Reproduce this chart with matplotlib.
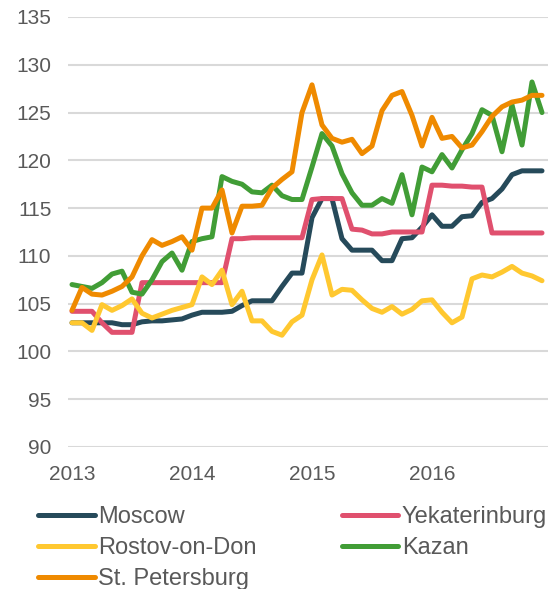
import numpy as np
import matplotlib.pyplot as plt

plt.rcParams['font.family'] = ['Liberation Sans', 'DejaVu Sans']

years = ['2013', '2014', '2015', '2016']

moscow = [103.0, 103.0, 103.0, 103.0, 103.0, 102.8, 102.8, 103.1, 103.2, 103.2, 103.3, 103.4,
          103.8, 104.1, 104.1, 104.1, 104.2, 104.8, 105.3, 105.3, 105.3, 106.8, 108.2, 108.2,
          114.0, 116.0, 116.0, 111.8, 110.6, 110.6, 110.6, 109.5, 109.5, 111.8, 111.9, 113.0,
          114.3, 113.1, 113.1, 114.1, 114.2, 115.6, 116.0, 117.0, 118.5, 118.9, 118.9, 118.9]
yekaterinburg = [104.2, 104.2, 104.2, 103.0, 102.0, 102.0, 102.0, 107.2, 107.2, 107.2, 107.2, 107.2,
                 107.2, 107.2, 107.2, 107.2, 111.8, 111.8, 111.9, 111.9, 111.9, 111.9, 111.9, 111.9,
                 115.9, 116.0, 116.0, 116.0, 112.8, 112.7, 112.3, 112.3, 112.5, 112.5, 112.5, 112.5,
                 117.4, 117.4, 117.3, 117.3, 117.2, 117.2, 112.4, 112.4, 112.4, 112.4, 112.4, 112.4]
rostov = [103.0, 103.0, 102.2, 104.9, 104.3, 104.8, 105.5, 104.0, 103.5, 103.9, 104.3, 104.6,
          104.9, 107.8, 107.0, 108.5, 104.9, 106.3, 103.2, 103.2, 102.1, 101.7, 103.1, 103.8,
          107.5, 110.1, 105.9, 106.5, 106.4, 105.4, 104.5, 104.1, 104.7, 103.9, 104.4, 105.3,
          105.4, 104.1, 103.0, 103.6, 107.6, 108.0, 107.8, 108.3, 108.9, 108.2, 107.9, 107.4]
kazan = [107.0, 106.8, 106.6, 107.2, 108.1, 108.4, 106.2, 106.0, 107.5, 109.4, 110.3, 108.5,
         111.5, 111.8, 112.0, 118.3, 117.8, 117.5, 116.7, 116.6, 117.4, 116.3, 115.9, 115.9,
         119.3, 122.8, 121.5, 118.6, 116.6, 115.3, 115.3, 116.0, 115.5, 118.5, 114.3, 119.3,
         118.8, 120.6, 119.2, 121.1, 122.8, 125.3, 124.7, 120.9, 125.8, 121.6, 128.2, 125.0]
st_petersburg = [104.3, 106.7, 106.0, 105.9, 106.3, 106.8, 107.8, 110.0, 111.7, 111.1, 111.5, 112.0,
                 110.6, 115.0, 115.0, 116.9, 112.4, 115.2, 115.2, 115.3, 117.1, 118.0, 118.8, 125.0,
                 127.9, 123.7, 122.3, 121.9, 122.2, 120.7, 121.5, 125.2, 126.8, 127.2, 124.7, 121.5,
                 124.5, 122.3, 122.5, 121.3, 121.6, 123.0, 124.6, 125.6, 126.1, 126.3, 126.8, 126.8]

series = [
    ('Moscow', moscow, '#264a5a'),
    ('Yekaterinburg', yekaterinburg, '#e0506e'),
    ('Rostov-on-Don', rostov, '#ffc830'),
    ('Kazan', kazan, '#419d36'),
    ('St. Petersburg', st_petersburg, '#ef8a00'),
]

fig = plt.figure(figsize=(5.5, 5.89), dpi=100)
ax = fig.add_axes([68 / 550, 1 - 447 / 589, 480 / 550, 430 / 589])

x = np.arange(len(moscow))
lines = {}
for name, vals, col in series:
    ln, = ax.plot(x, vals, color=col, lw=3.6, solid_capstyle='round',
                  solid_joinstyle='round', label=name, clip_on=False)
    lines[name] = ln

ax.set_xlim(-0.4, 47.6)
ax.set_ylim(90, 135)
ax.set_yticks(np.arange(90, 136, 5))
ax.set_xticks([0, 12, 24, 36])
ax.set_xticklabels(years)
ax.grid(axis='y', color='#d9d9d9', lw=1.5)
ax.set_axisbelow(True)
for s in ax.spines.values():
    s.set_visible(False)
ax.tick_params(length=0, labelsize=15, colors='#595959')
ax.tick_params(axis='x', pad=13)
ax.tick_params(axis='y', pad=12)

order = ['Moscow', 'Rostov-on-Don', 'St. Petersburg', 'Yekaterinburg', 'Kazan']
fig.legend([lines[n] for n in order], order, loc='upper left',
           bbox_to_anchor=(38 / 550, 1 - 506 / 589), ncol=2, frameon=False,
           fontsize=17, labelcolor='#595959', handlelength=2.4, handletextpad=0.15,
           columnspacing=3.6, labelspacing=0.38, borderpad=0, borderaxespad=0)

fig.savefig('out.png', dpi=100)
